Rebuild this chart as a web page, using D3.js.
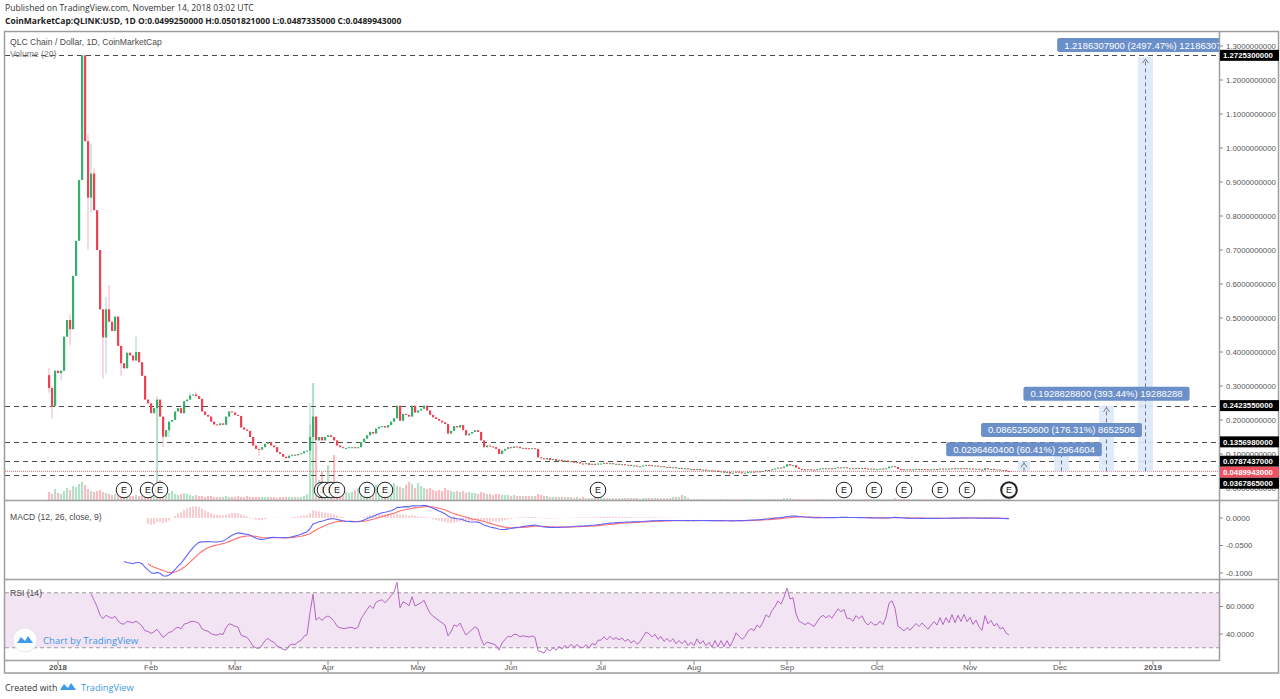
<!DOCTYPE html>
<html><head><meta charset="utf-8">
<script src="https://cdn.jsdelivr.net/npm/d3@7"></script>
<style>body{margin:0;background:#fff;overflow:hidden}svg{display:block}</style>
</head><body>
<svg id="c" width="1280" height="699"></svg>
<script>
// ---------------- DATA ----------------
const startDate = "2017-12-29";
const firstOpen = 0.332;
const closes = [
.294,.241,.345,.338,.345,.445,.494,.467,.624,.727,
.906,1.2725,1.02,.854,.925,.817,.70,.5255,.443,.5255,
.489,.462,.504,.418,.367,.352,.398,.39,.375,.40,
.37,.33,.26,.249,.22,.235,.26,.21,.151,.17,
.195,.20,.225,.235,.22,.255,.26,.272,.275,.27,
.262,.225,.215,.21,.195,.187,.185,.19,.186,.21,
.225,.222,.215,.212,.178,.172,.168,.15,.125,.115,
.113,.12,.13,.135,.125,.12,.105,.10,.092,.088,
.095,.098,.096,.10,.102,.108,.11,.15,.21,.14,
.15,.14,.15,.155,.15,.14,.125,.12,.118,.118,
.12,.12,.117,.12,.135,.145,.155,.165,.16,.175,
.18,.182,.178,.185,.195,.205,.242,.198,.218,.215,
.21,.242,.222,.228,.233,.242,.228,.215,.208,.203,
.198,.193,.188,.16,.168,.182,.178,.185,.17,.155,
.16,.165,.17,.165,.14,.12,.125,.122,.12,.115,
.10,.11,.115,.12,.118,.122,.121,.117,.118,.117,
.116,.117,.115,
.09,.087,.084,.088,.082,.085,.080,.083,.078,.081,
.076,.079,.074,.076,.072,.071,.073,.068,.071,.069,.072,
.072,.074,.071,.073,.070,.071,.069,.070,.067,.068,
.065,.066,.063,.064,.066,.068,.067,.065,.066,.063,
.064,.061,.062,.060,.061,.058,.059,.057,.058,.055,.056,
.054,.056,.053,.054,.051,.052,.049,.051,.047,.049,
.045,.047,.043,.045,.048,.046,.044,.045,.047,.048,
.047,.049,.048,.050,.053,.052,.055,.057,.060,.059,.063,
.070,.066,.067,.060,.056,.055,.054,.055,.054,.053,
.055,.057,.058,.057,.058,.057,.059,.061,.060,.061,
.058,.058,.057,.059,.058,.059,.057,.056,.057,.056,
.056,.057,.056,.058,.063,.064,.062,.056,.055,.054,
.055,.054,.055,.056,.055,.056,.055,.054,.055,.056,
.055,.057,.055,.057,.0555,.058,.0555,.058,.056,.0585,.056,
.0575,.055,.0565,.054,.0525,.058,.0545,.056,.0535,.0545,.052,.0525,.049925,.0489943
];
const volumes = [
8,6,11,7,6,9,12,10,14,13, 16,18,15,11,9,8,9,10,8,7,
6,5,6,6,5,4,5,4,4,5, 4,5,8,6,9,10,98,20,14,8,
7,9,6,5,6,7,6,5,4,5, 4,4,3,4,4,3,3,3,3,4,
3,3,3,4,3,3,4,3,3,3, 3,3,3,3,3,3,2,3,3,3,
3,3,3,3,3,4,6,75,117,57, 20,28,15,35,12,45,15,12,10,8,
7,8,10,12,14,12,13,10,12,15, 13,10,12,14,16,17,14,13,12,15,
18,16,12,17,14,12,11,12,10,9, 10,9,12,10,9,8,9,8,9,7,
8,7,7,6,8,7,6,6,5,6, 6,5,5,5,4,5,4,4,4,4,
4,4,4,6,5,4,4,3,3,3, 3,3,3,3,3,2,3,2,3,2,
2,2,3,2,2,2,2,2,2,2, 2,2,2,2,2,2,2,1,2,2,
2,2,2,2,2,2,2,2,3,3, 3,5,4,2,1,1,1,1,1,1,
1,1,1,1,1,1,1,1,1,1, 1,1,1,1,1,1,1,1,1,1,
1,1,1,1,1,2,2,2,1,1, 1,1,1,1,1,1,1,1,1,1,
1,1,1,1,1,1,1,1,1,1, 1,1,1,1,1,1,1,1,1,1,
1,1,2,1,1,1,1,1,1,1, 1,1,1,1,1,1,1,1,1,1,
1,1,1,1,1,1,1,1,1,1, 1,1,1,1,1,1,1,1,1,1,1
];
// [index, high, low] for candles with visible wicks
const wicks = [[0,.353,.28],[1,.30,.205],[4,null,.318],[7,.51,.42],[9,null,.636],
[13,1.04,.70],[14,1.013,.81],[15,.94,null],[18,null,.322],[19,.562,.337],[20,.597,null],
[24,null,.33],[29,.445,null],[36,.27,null],[38,null,.121],[40,null,.15],[47,.28,null],
[49,.283,null],[70,null,.095],[87,.25,null],[227,null,.0368]];
const levels = [1.27253, 0.242355, 0.135698, 0.0787437, 0.0367865];
const lastPrice = 0.0489943;
const priceTicks = [0,0.1,0.2,0.3,0.4,0.5,0.6,0.7,0.8,0.9,1.0,1.1,1.2,1.3];
const eventDates = ["2018-01-23","2018-01-31","2018-02-04","2018-03-30","2018-03-31","2018-04-02","2018-04-04","2018-04-14","2018-04-20","2018-06-30","2018-09-20","2018-09-30","2018-10-10","2018-10-22","2018-10-31","2018-11-14"];
const rangeFrom = ["2018-11-17","2018-11-29","2018-12-14","2018-12-27"];
const rangeTo = ["2018-11-21","2018-12-04","2018-12-19","2019-01-01"];
const rangeChange = [0.02964604, 0.08652506, 0.19288288, 1.21863079];
const rangePct = [60.41, 176.31, 393.44, 2497.47];
const macdTicks = [0, -0.05, -0.1];
const rsiTicks = [60, 40];
const monthLabels = ["2018","Feb","Mar","Apr","May","Jun","Jul","Aug","Sep","Oct","Nov","Dec","2019"];

// ---------------- SETUP ----------------
const svg = d3.select("#c");
const FONT = "'Liberation Sans', Arial, sans-serif";
const L = 5, R = 1219;
const DAY = 864e5;
const t0 = Date.parse(startDate + "T00:00:00Z");
const x = d3.scaleUtc().domain([new Date(Date.UTC(2018,0,1)), new Date(Date.UTC(2019,0,1))]).range([58,1153]);
const y = d3.scaleLinear().domain([0,1.3]).range([488,46]);
const yv = d3.scaleLinear().domain([0,117]).range([500,383]);
const ym = d3.scaleLinear().domain([-0.1,0]).range([573,518]);
const yr = d3.scaleLinear().domain([40,60]).range([634,606.5]);
const pd = s => new Date(Date.parse(s + "T00:00:00Z"));

const wmap = new Map(wicks.map(w => [w[0], w]));
const bars = closes.map((c,i) => {
  const o = i === 0 ? firstOpen : closes[i-1];
  let h = Math.max(o,c), l = Math.min(o,c);
  const w = wmap.get(i);
  if (w) { if (w[1] != null) h = Math.max(h, w[1]); if (w[2] != null) l = Math.min(l, w[2]); }
  return {d: new Date(t0 + i*DAY), o, c, h, l, v: volumes[i], up: c >= o};
});

const UP = "#35b06b", DN = "#ef4152";
const UPW = "#a9cfd8", DNW = "#f6b0b9";
const UPV = "#b3e1c7", DNV = "#f8bcc2";

const defs = svg.append("defs");
defs.append("clipPath").attr("id","cp").append("rect").attr("x",L).attr("y",32).attr("width",R-L).attr("height",468);
defs.append("clipPath").attr("id","cm").append("rect").attr("x",L).attr("y",501).attr("width",R-L).attr("height",78);
defs.append("clipPath").attr("id","cr").append("rect").attr("x",L).attr("y",580).attr("width",R-L).attr("height",80);

// ---------------- PRICE PANE ----------------
const gp = svg.append("g").attr("clip-path","url(#cp)");
gp.selectAll("rect.vol").data(bars).join("rect")
  .attr("x", d => x(d.d) - 1).attr("width", 2.2)
  .attr("y", d => yv(d.v)).attr("height", d => 500 - yv(d.v))
  .attr("fill", d => d.up ? UPV : DNV);

gp.selectAll("line.lvl").data(levels).join("line")
  .attr("x1", L).attr("x2", R).attr("y1", d => Math.round(y(d))+0.5).attr("y2", d => Math.round(y(d))+0.5)
  .attr("stroke","#4a4a4a").attr("stroke-width",1.2).attr("stroke-dasharray","5,4");
gp.append("line").attr("x1",L).attr("x2",R).attr("y1",y(lastPrice)).attr("y2",y(lastPrice))
  .attr("stroke","#f0646f").attr("stroke-width",1).attr("stroke-dasharray","1,1");

gp.selectAll("line.wick").data(bars).join("line")
  .attr("x1", d => x(d.d)).attr("x2", d => x(d.d))
  .attr("y1", d => y(d.h)).attr("y2", d => y(d.l))
  .attr("stroke", d => d.up ? UPW : DNW).attr("stroke-width",1);
gp.selectAll("rect.body").data(bars).join("rect")
  .attr("x", d => x(d.d) - 1).attr("width", 2.2)
  .attr("y", d => y(Math.max(d.o,d.c)))
  .attr("height", d => Math.max(1, Math.abs(y(d.o) - y(d.c))))
  .attr("fill", d => d.up ? UP : DN);

// event markers
const ge = gp.selectAll("g.ev").data(eventDates).join("g")
  .attr("transform", d => `translate(${x(pd(d))},490)`);
ge.append("circle").attr("r",7.8).attr("fill","#fff").attr("fill-opacity",0.9)
  .attr("stroke","#222").attr("stroke-width",(d,i) => i === eventDates.length-1 ? 2 : 1);
ge.append("text").text("E").attr("text-anchor","middle").attr("dy","0.35em")
  .attr("font-family",FONT).attr("font-size",9).attr("fill","#222");

// measurement ranges: rects, then arrows, then labels on top
const ranges = rangeFrom.map((f,i) => {
  const base = rangeChange[i] / rangePct[i] * 100;
  return {x0: x(pd(f)), x1: x(pd(rangeTo[i])), base, top: base + rangeChange[i],
    label: `${rangeChange[i].toFixed(10)} (${rangePct[i].toFixed(2)}%) ${Math.round(rangeChange[i]*1e8)}`};
});
gp.selectAll("rect.rng").data(ranges).join("rect").attr("x", d => d.x0).attr("width", d => d.x1 - d.x0)
  .attr("y", d => y(d.top)).attr("height", d => y(d.base) - y(d.top))
  .attr("fill","#dbe9fb").attr("fill-opacity",0.9);
gp.selectAll("line.rng").data(ranges).join("line").attr("x1", d => (d.x0+d.x1)/2).attr("x2", d => (d.x0+d.x1)/2)
  .attr("y1", d => y(d.base)).attr("y2", d => y(d.top)+1)
  .attr("stroke","#777").attr("stroke-dasharray","4,3");
gp.selectAll("path.rng").data(ranges).join("path")
  .attr("d", d => { const cx=(d.x0+d.x1)/2, ty=y(d.top)+2; return `M${cx-3},${ty+4}L${cx},${ty}L${cx+3},${ty+4}`; })
  .attr("fill","none").attr("stroke","#777");
gp.selectAll("g.rl").data(ranges).join("g").each(function(d){
  const g = d3.select(this);
  const cx = (d.x0+d.x1)/2, ty = y(d.top) - 5;
  const box = g.append("rect").attr("fill","#6b8fc9").attr("rx",2);
  const t = g.append("text").text(d.label).attr("font-family",FONT).attr("font-size",9.5)
    .attr("fill","#fff").attr("text-anchor","middle").attr("x",cx).attr("y",ty-3.5);
  const w = t.node().getComputedTextLength() + 14;
  box.attr("x", cx - w/2).attr("y", ty - 14).attr("width", w).attr("height", 14);
});

// titles
svg.append("text").attr("x",10).attr("y",45).text("QLC Chain / Dollar, 1D, CoinMarketCap")
  .attr("font-family",FONT).attr("font-size",8.6).attr("fill","#4a4a4a");
svg.append("text").attr("x",10).attr("y",57).text("Volume (20)")
  .attr("font-family",FONT).attr("font-size",8.6).attr("fill","#777");

// ---------------- MACD ----------------
function ema(arr, n) {
  const out = arr.map(() => null); const a = 2/(n+1);
  let start = arr.findIndex(v => v != null); if (start < 0) return out;
  if (start + n - 1 >= arr.length) return out;
  let s = 0; for (let k = start; k < start + n; k++) s += arr[k];
  let e = s / n; out[start+n-1] = e;
  for (let k = start + n; k < arr.length; k++) { e = a*arr[k] + (1-a)*e; out[k] = e; }
  return out;
}
const e12 = ema(closes,12), e26 = ema(closes,26);
const macd = closes.map((c,i) => (e12[i]!=null && e26[i]!=null) ? e12[i]-e26[i] : null);
const sig = ema(macd, 9);
const hist = macd.map((m,i) => (m!=null && sig[i]!=null) ? m - sig[i] : null);
const gm = svg.append("g").attr("clip-path","url(#cm)");
gm.selectAll("line.h").data(bars.map((b,i)=>({d:b.d,v:hist[i]})).filter(o=>o.v!=null)).join("line")
  .attr("x1", o => x(o.d)).attr("x2", o => x(o.d)).attr("y1", ym(0)).attr("y2", o => ym(o.v))
  .attr("stroke","#f59aa3").attr("stroke-width",1);
const lineOf = (arr, ys) => d3.line().defined((v,i)=>arr[i]!=null).x((v,i)=>x(bars[i].d)).y((v)=>ys(v));
gm.append("path").datum(sig).attr("d", lineOf(sig, ym)).attr("fill","none").attr("stroke","#ff6f6f").attr("stroke-width",1.1);
gm.append("path").datum(macd).attr("d", lineOf(macd, ym)).attr("fill","none").attr("stroke","#6262ff").attr("stroke-width",1.1);
svg.append("text").attr("x",10).attr("y",520).text("MACD (12, 26, close, 9)")
  .attr("font-family",FONT).attr("font-size",8.6).attr("fill","#4a4a4a");

// ---------------- RSI ----------------
const rsi = closes.map(() => null);
{
  const n = 14; let g = 0, l = 0;
  for (let i = 1; i <= n; i++) { const ch = closes[i]-closes[i-1]; if (ch>0) g+=ch; else l-=ch; }
  g/=n; l/=n; rsi[n] = l===0?100:100-100/(1+g/l);
  for (let i = n+1; i < closes.length; i++) {
    const ch = closes[i]-closes[i-1];
    g = (g*(n-1) + Math.max(ch,0))/n; l = (l*(n-1) + Math.max(-ch,0))/n;
    rsi[i] = l===0?100:100-100/(1+g/l);
  }
}
const grs = svg.append("g").attr("clip-path","url(#cr)");
grs.append("rect").attr("x",L).attr("width",R-L).attr("y",yr(70)).attr("height",yr(30)-yr(70)).attr("fill","#f2e4f3");
grs.selectAll("line.b").data([70,30]).join("line").attr("x1",L).attr("x2",R)
  .attr("y1",d=>yr(d)).attr("y2",d=>yr(d)).attr("stroke","#9b9b9b").attr("stroke-dasharray","4,3");
grs.append("path").datum(rsi).attr("d", lineOf(rsi, yr)).attr("fill","none").attr("stroke","#b467c4").attr("stroke-width",1);
svg.append("text").attr("x",10).attr("y",596).text("RSI (14)")
  .attr("font-family",FONT).attr("font-size",8.6).attr("fill","#4a4a4a");

// watermark
const wm = svg.append("g").attr("transform","translate(25,640)");
wm.append("circle").attr("r",12).attr("fill","#fff").attr("stroke","#e6e6e6");
wm.append("path").attr("d","M-8,3 L-4,-3 L0,1 L3,-4 L8,3 Z").attr("fill","#3d9be9");
svg.append("text").attr("x",43).attr("y",644).text("Chart by TradingView")
  .attr("font-family","'Open Sans', sans-serif").attr("font-size",9.6).attr("fill","#3b9ae6");

// ---------------- FRAMES ----------------
const fr = svg.append("g").attr("fill","none").attr("stroke","#9e9e9e").attr("stroke-width",1.5);
fr.append("rect").attr("x",4.5).attr("y",31.5).attr("width",1274).attr("height",641.5);
fr.append("line").attr("x1",R+0.5).attr("x2",R+0.5).attr("y1",31.5).attr("y2",661);
fr.append("line").attr("x1",4.5).attr("x2",1278.5).attr("y1",500.5).attr("y2",500.5);
fr.append("line").attr("x1",4.5).attr("x2",1278.5).attr("y1",579.5).attr("y2",579.5);
fr.append("line").attr("x1",4.5).attr("x2",R+0.5).attr("y1",660.5).attr("y2",660.5);

// ---------------- RIGHT AXES ----------------
const ax = svg.append("g").attr("font-family",FONT).attr("font-size",7.8).attr("fill","#555");
const axTick = (vals, ys, fmt) => {
  ax.selectAll(null).data(vals).join("line").attr("x1",R).attr("x2",R+4).attr("y1",d=>ys(d)).attr("y2",d=>ys(d)).attr("stroke","#888");
  ax.selectAll(null).data(vals).join("text").attr("x",R+7).attr("y",d=>ys(d)).attr("dy","0.35em").text(fmt);
};
axTick(priceTicks, y, d => d.toFixed(10));
axTick(macdTicks, ym, d => d.toFixed(4));
axTick(rsiTicks, yr, d => d.toFixed(4));
// last-value labels, spread so they do not overlap
const BH = 11;
const allLbl = levels.map(v => ({v, fill:"#000"})).concat([{v:lastPrice, fill:"#f0505f"}])
  .sort((a,b) => y(a.v) - y(b.v));
let prev = -1e9;
allLbl.forEach(d => { d.cy = Math.max(y(d.v), prev + BH); prev = d.cy; });
const lbl = svg.append("g");
lbl.selectAll("rect").data(allLbl).join("rect").attr("x",R+1).attr("width",59).attr("y",d=>d.cy-BH/2).attr("height",BH).attr("fill",d=>d.fill);
lbl.selectAll("text").data(allLbl).join("text").attr("x",R+4).attr("y",d=>d.cy).attr("dy","0.35em")
  .text(d=>d.v.toFixed(10)).attr("font-family",FONT).attr("font-size",7.8).attr("font-weight","bold").attr("fill","#fff");

// ---------------- TIME AXIS ----------------
const months = d3.utcMonths(new Date(Date.UTC(2018,0,1)), new Date(Date.UTC(2019,0,2)));
const ta = svg.append("g").attr("font-family",FONT).attr("font-size",8).attr("fill","#555");
ta.selectAll("line").data(months).join("line").attr("x1",d=>x(d)).attr("x2",d=>x(d)).attr("y1",661).attr("y2",665).attr("stroke","#888");
ta.selectAll("text").data(months).join("text").attr("x",d=>x(d)).attr("y",670).attr("text-anchor","middle")
  .attr("font-weight",(d,i)=> (i===0||i===12) ? "bold" : "normal").text((d,i)=>monthLabels[i]);

// ---------------- HEADER / FOOTER ----------------
svg.append("text").attr("x",5).attr("y",11).text("Published on TradingView.com, November 14, 2018 03:02 UTC")
  .attr("font-family","'Open Sans', sans-serif").attr("font-size",8.6).attr("fill","#333");
svg.append("text").attr("x",5).attr("y",24).text("CoinMarketCap:QLINK:USD, 1D O:0.0499250000 H:0.0501821000 L:0.0487335000 C:0.0489943000")
  .attr("font-family","'Open Sans', sans-serif").attr("font-size",8.5).attr("font-weight","bold").attr("fill","#222");
svg.append("text").attr("x",5).attr("y",691).text("Created with")
  .attr("font-family","'Open Sans', sans-serif").attr("font-size",8.8).attr("fill","#333");
svg.append("path").attr("d","M60,690 L64,684 L68,688 L71,683 L76,690 Z").attr("fill","#3d9be9");
svg.append("text").attr("x",81).attr("y",691).text("TradingView")
  .attr("font-family","'Open Sans', sans-serif").attr("font-size",9.2).attr("fill","#3b9ae6");
</script>
</body></html>
